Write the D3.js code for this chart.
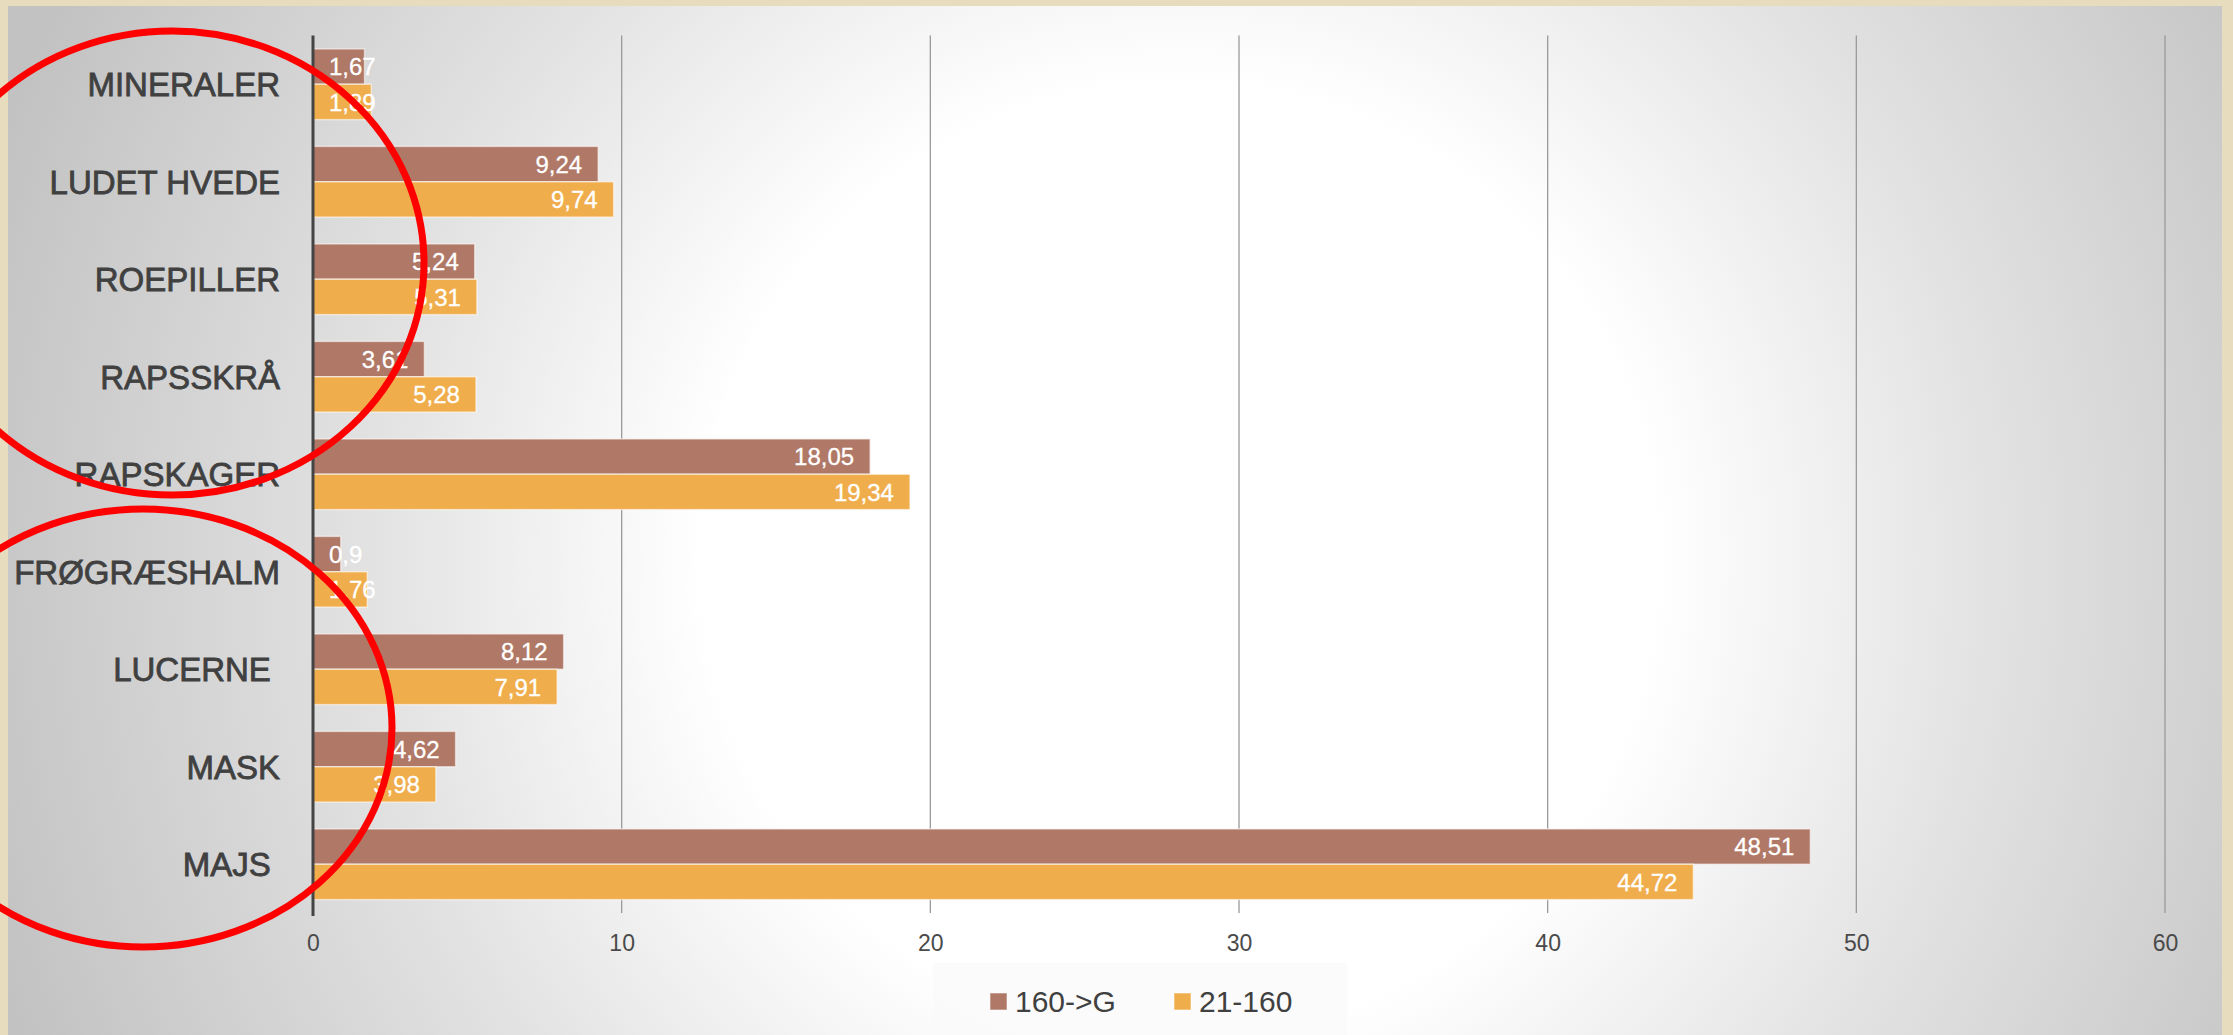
<!DOCTYPE html>
<html>
<head>
<meta charset="utf-8">
<script src="https://cdn.jsdelivr.net/npm/d3@7"></script>
<style>
    body { margin: 0; background: #e8dcbe; }
    svg { display: block; }
    text { font-family: "Liberation Sans", Arial, sans-serif; }
</style>
</head>
<body>
<svg id="chart" width="2233" height="1035"></svg>
<script>

/*    ========    DATA    =========    */

var categories = ["MINERALER", "LUDET HVEDE", "ROEPILLER", "RAPSSKRÅ", "RAPSKAGER",
                  "FRØGRÆSHALM", "LUCERNE ", "MASK", "MAJS "];
var series_names = ["160->G", "21-160"];
var values_160G = [1.67, 9.24, 5.24, 3.61, 18.05, 0.9, 8.12, 4.62, 48.51];
var values_21_160 = [1.89, 9.74, 5.31, 5.28, 19.34, 1.76, 7.91, 3.98, 44.72];
var x_ticks = [0, 10, 20, 30, 40, 50, 60];

/*    ========    SETTINGS    =========    */

var svg = d3.select('#chart');
var width = 2233;
var height = 1035;

var color_brown = "#b07866";
var color_orange = "#f0ad4c";

var X0 = 313, X1 = 2165;
var Y0 = 35.5, Y1 = 913;

var defs = svg.append("defs");

// background: white glow in the middle, gray towards the corners
var grad = defs.append("radialGradient")
    .attr("id", "bg")
    .attr("gradientUnits", "userSpaceOnUse")
    .attr("cx", 1180).attr("cy", 560).attr("r", 1250);
[[0, "#ffffff"], [0.38, "#ffffff"], [0.65, "#e2e2e2"], [1, "#c2c2c2"]]
    .forEach(function(s) {
        grad.append("stop").attr("offset", s[0]).attr("stop-color", s[1]);
    });

svg.append("rect")
    .attr("x", 8).attr("y", 6)
    .attr("width", 2214).attr("height", height - 6)
    .attr("fill", "url(#bg)");

/*    ========    SCALES    =========    */

var scale_x = d3.scaleLinear().domain([0, 60]).range([X0, X1]);
var scale_y = d3.scaleBand().domain(categories).range([Y0, Y1])
    .paddingInner(0.275).paddingOuter(0.1375);
var scale_s = d3.scaleBand().domain(series_names).range([0, scale_y.bandwidth()]);

// gridlines
svg.append("g")
    .attr("class", "grid")
    .selectAll("line")
    .data(x_ticks.slice(1))
    .enter().append("line")
    .attr("x1", function(d) { return scale_x(d); })
    .attr("x2", function(d) { return scale_x(d); })
    .attr("y1", Y0).attr("y2", Y1)
    .attr("stroke", "#9a9a9a")
    .attr("stroke-width", 1.3);

// x tick labels
svg.append("g")
    .attr("transform", "translate(0," + Y1 + ")")
    .call(d3.axisBottom(scale_x).tickValues(x_ticks).tickSize(0).tickPadding(22))
    .call(function(g) { g.select(".domain").remove(); })
    .selectAll("text")
    .attr("font-family", "Liberation Sans, Arial, sans-serif")
    .attr("font-size", 23)
    .attr("fill", "#4a4a4a");

/*    ========    BARS    =========    */

var rows = categories.map(function(c, i) {
    return { cat: c, vals: [
        { s: series_names[0], v: values_160G[i], c: color_brown },
        { s: series_names[1], v: values_21_160[i], c: color_orange }
    ]};
});

var groups = svg.append("g").selectAll("g")
    .data(rows)
    .enter().append("g")
    .attr("transform", function(d) { return "translate(0," + scale_y(d.cat) + ")"; });

groups.selectAll("rect")
    .data(function(d) { return d.vals; })
    .enter().append("rect")
    .attr("x", X0)
    .attr("y", function(d) { return scale_s(d.s); })
    .attr("width", function(d) { return scale_x(d.v) - X0; })
    .attr("height", scale_s.bandwidth())
    .attr("fill", function(d) { return d.c; })
    .attr("stroke", "rgba(255,255,255,0.55)")
    .attr("stroke-width", 1.5);

// value labels, inside end
groups.selectAll("text.val")
    .data(function(d) { return d.vals; })
    .enter().append("text")
    .attr("class", "val")
    .attr("y", function(d) { return scale_s(d.s) + scale_s.bandwidth() / 2; })
    .attr("dy", "0.36em")
    .attr("font-size", 24)
    .attr("fill", "#ffffff")
    .attr("stroke", "#ffffff")
    .attr("stroke-width", 0.3)
    .text(function(d) { return String(d.v).replace(".", ","); })
    .attr("x", function(d) {
        var w = this.getComputedTextLength();
        return Math.max(X0 + 16, scale_x(d.v) - 16 - w);
    });

// vertical axis line
svg.append("line")
    .attr("x1", X0).attr("x2", X0)
    .attr("y1", Y0).attr("y2", Y1 + 3)
    .attr("stroke", "#444")
    .attr("stroke-width", 3);

// category labels
svg.append("g").selectAll("text")
    .data(categories)
    .enter().append("text")
    .attr("x", 280)
    .attr("y", function(d) { return scale_y(d) + scale_y.bandwidth() / 2; })
    .attr("dy", "0.36em")
    .attr("text-anchor", "end")
    .attr("font-size", 33)
    .attr("fill", "#404040")
    .attr("stroke", "#404040")
    .attr("stroke-width", 0.8)
    .style("white-space", "pre")
    .text(function(d) { return d; });

/*    ========    LEGEND    =========    */

var legend = svg.append("g");
legend.append("rect")
    .attr("x", 933).attr("y", 963)
    .attr("width", 414).attr("height", 72)
    .attr("fill", "rgba(250,250,250,0.75)");

var legend_x = [990, 1174];
series_names.forEach(function(s, i) {
    legend.append("rect")
        .attr("x", legend_x[i]).attr("y", 993)
        .attr("width", 17).attr("height", 17)
        .attr("fill", i === 0 ? color_brown : color_orange)
        .attr("stroke", "rgba(255,255,255,0.55)");
    legend.append("text")
        .attr("x", legend_x[i] + 25).attr("y", 1001)
        .attr("dy", "0.36em")
        .attr("font-size", 30)
        .attr("fill", "#404040")
        .text(s);
});

/*    ========    RED ANNOTATION CIRCLES    =========    */

svg.append("ellipse")
    .attr("cx", 172).attr("cy", 263).attr("rx", 252).attr("ry", 232)
    .attr("fill", "none").attr("stroke", "#ff0000").attr("stroke-width", 7);
svg.append("ellipse")
    .attr("cx", 143).attr("cy", 728).attr("rx", 249).attr("ry", 219)
    .attr("fill", "none").attr("stroke", "#ff0000").attr("stroke-width", 7);

</script>
</body>
</html>
